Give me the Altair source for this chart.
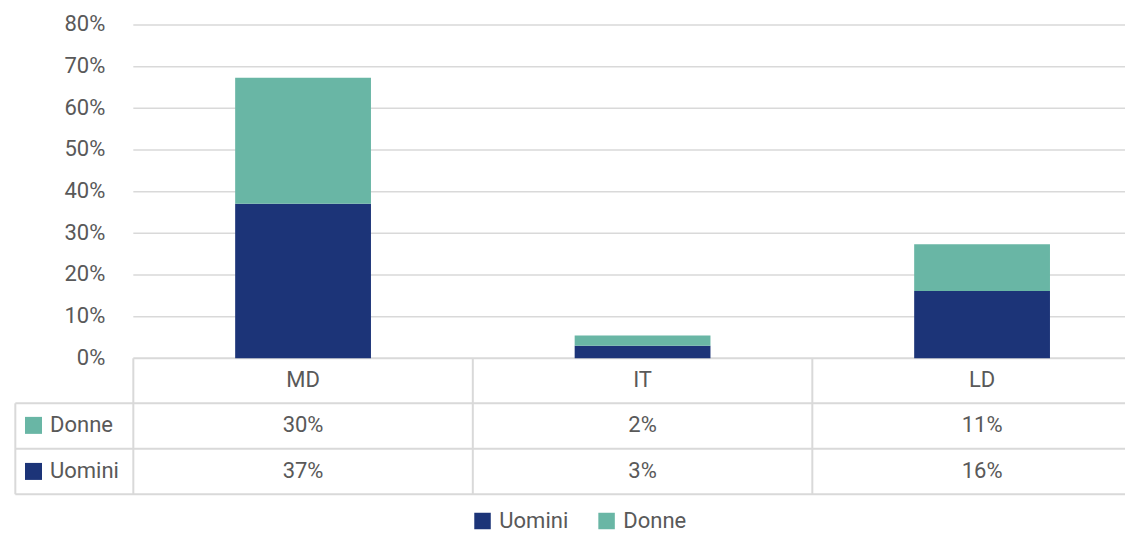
import altair as alt
import pandas as pd

# ---- data ----
categories = ["MD", "IT", "LD"]
uomini = [37.1, 3.0, 16.15]
donne = [30.25, 2.48, 11.2]
uomini_labels = ["37%", "3%", "16%"]
donne_labels = ["30%", "2%", "11%"]
series = ["Uomini", "Donne"]
colors = ["#1c3478", "#69b6a5"]
y_ticks = [0, 10, 20, 30, 40, 50, 60, 70, 80]

FONT = "Roboto"
FS = 22
TXT = "#595959"
GRID = "#d9d9d9"

# scales: x in "table column" units, y in percent units
W, H = 1117, 526
X_DOM = [-0.3691, 2.921]
Y_DOM = [-42.17, 84.07]
xs = alt.Scale(domain=X_DOM, nice=False, zero=False)
ys = alt.Scale(domain=Y_DOM, nice=False, zero=False)
XRIGHT = 3.05

# bars
rows = []
for i, c in enumerate(categories):
    rows.append({"cat": c, "idx": i, "series": "Uomini", "order": 0, "value": uomini[i]})
    rows.append({"cat": c, "idx": i, "series": "Donne", "order": 1, "value": donne[i]})
bars_df = pd.DataFrame(rows)

colscale = alt.Scale(domain=series, range=colors)

bars = alt.Chart(bars_df).transform_window(
    y1="sum(value)", groupby=["cat"], sort=[alt.SortField("order")], frame=[None, 0]
).transform_calculate(
    y0="datum.y1 - datum.value", xa="datum.idx + 0.3", xb="datum.idx + 0.7"
).mark_rect().encode(
    x=alt.X("xa:Q", scale=xs, axis=None),
    x2="xb:Q",
    y=alt.Y("y0:Q", scale=ys, axis=None),
    y2="y1:Q",
    color=alt.Color("series:N", scale=colscale, legend=None),
)

# gridlines
grid_df = pd.DataFrame({"t": y_ticks[1:], "x0": 0.0, "x1": XRIGHT})
grid = alt.Chart(grid_df).mark_rule(color=GRID, strokeWidth=1.5).encode(
    x=alt.X("x0:Q", scale=xs, axis=None), x2="x1:Q", y=alt.Y("t:Q", scale=ys, axis=None)
)

# y labels
ylab_df = pd.DataFrame({"t": y_ticks, "lab": [f"{t}%" for t in y_ticks], "xp": -0.0825})
ylab_df["yp"] = ylab_df["t"] - 1.55
ylab = alt.Chart(ylab_df).mark_text(
    align="right", baseline="alphabetic", font=FONT, fontSize=FS, color=TXT
).encode(
    x=alt.X("xp:Q", scale=xs, axis=None), y=alt.Y("yp:Q", scale=ys, axis=None), text="lab:N"
)

# table lines
ROW_LINES = [0.0, -10.8, -21.7, -32.64]
LEFT_X = -0.3475
hl_df = pd.DataFrame({
    "y": ROW_LINES,
    "x0": [0.0, LEFT_X, LEFT_X, LEFT_X],
    "x1": [XRIGHT] * 4,
})
hlines = alt.Chart(hl_df).mark_rule(color=GRID, strokeWidth=2).encode(
    x=alt.X("x0:Q", scale=xs, axis=None), x2="x1:Q", y=alt.Y("y:Q", scale=ys, axis=None)
)
vl_df = pd.DataFrame({
    "x": [LEFT_X, 0.0, 1.0, 2.0, 3.0],
    "y0": [-10.8, 0.0, 0.0, 0.0, 0.0],
    "y1": [-32.64] * 5,
})
vlines = alt.Chart(vl_df).mark_rule(color=GRID, strokeWidth=2).encode(
    x=alt.X("x:Q", scale=xs, axis=None), y=alt.Y("y0:Q", scale=ys, axis=None), y2="y1:Q"
)

# table text
HEAD_Y, DONNE_Y, UOMINI_Y = -6.96, -17.8, -28.75
tt_rows = []
for i, c in enumerate(categories):
    tt_rows.append({"x": i + 0.5, "y": HEAD_Y, "t": c})
    tt_rows.append({"x": i + 0.5, "y": DONNE_Y, "t": donne_labels[i]})
    tt_rows.append({"x": i + 0.5, "y": UOMINI_Y, "t": uomini_labels[i]})
ttext = alt.Chart(pd.DataFrame(tt_rows)).mark_text(
    align="center", baseline="alphabetic", font=FONT, fontSize=FS, color=TXT
).encode(x=alt.X("x:Q", scale=xs, axis=None), y=alt.Y("y:Q", scale=ys, axis=None), text="t:N")

# table row legend
tl_df = pd.DataFrame({
    "series": ["Donne", "Uomini"],
    "sx": [-0.294, -0.294],
    "sy": [-16.1, -27.15],
    "tx": [-0.2454, -0.2454],
    "ty": [DONNE_Y, UOMINI_Y],
})
tl_sw = alt.Chart(tl_df).mark_square(size=289, opacity=1).encode(
    x=alt.X("sx:Q", scale=xs, axis=None), y=alt.Y("sy:Q", scale=ys, axis=None),
    color=alt.Color("series:N", scale=colscale, legend=None),
)
tl_tx = alt.Chart(tl_df).mark_text(
    align="left", baseline="alphabetic", font=FONT, fontSize=FS, color=TXT
).encode(x=alt.X("tx:Q", scale=xs, axis=None), y=alt.Y("ty:Q", scale=ys, axis=None), text="series:N")

# bottom legend
lg_df = pd.DataFrame({
    "series": ["Uomini", "Donne"],
    "sx": [1.0286, 1.394],
    "tx": [1.078, 1.4433],
    "sy": [-39.05, -39.05],
    "ty": [-40.73, -40.73],
})
lg_sw = alt.Chart(lg_df).mark_square(size=272, opacity=1).encode(
    x=alt.X("sx:Q", scale=xs, axis=None), y=alt.Y("sy:Q", scale=ys, axis=None),
    color=alt.Color("series:N", scale=colscale, legend=None),
)
lg_tx = alt.Chart(lg_df).mark_text(
    align="left", baseline="alphabetic", font=FONT, fontSize=FS, color=TXT
).encode(x=alt.X("tx:Q", scale=xs, axis=None), y=alt.Y("ty:Q", scale=ys, axis=None), text="series:N")

chart = alt.layer(
    grid, hlines, vlines, bars, ylab, ttext, tl_sw, tl_tx, lg_sw, lg_tx
).properties(
    width=W, height=H,
    autosize=alt.AutoSizeParams(type="none"),
    padding=0,
    background="white",
).configure_view(stroke=None)

chart.save("out.html", embed_options={"renderer": "svg", "actions": False})
